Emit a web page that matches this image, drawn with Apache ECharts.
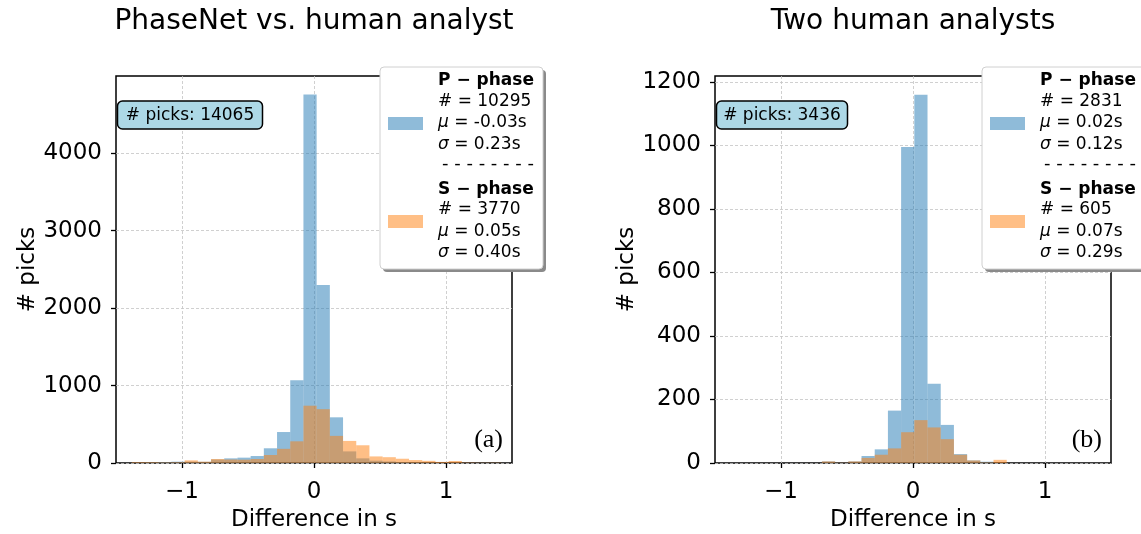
<!DOCTYPE html>
<html>
<head>
<meta charset="utf-8">
<script src="https://cdn.jsdelivr.net/npm/echarts@6/dist/echarts.min.js"></script>
<style>
  html, body { margin: 0; padding: 0; background: #fff; }
  #chart { width: 1141px; height: 534px; }
</style>
</head>
<body>
<div id="chart"></div>
<script>
// Histogram bins: left edge of each bin (seconds) and counts per bin
const BIN_WIDTH = 0.1;

const leftBinStart = [-1.38, -1.28, -1.18, -1.08, -0.98, -0.88, -0.78, -0.68, -0.58, -0.48,
                      -0.38, -0.28, -0.18, -0.08, 0.02, 0.12, 0.22, 0.32, 0.42, 0.52,
                      0.62, 0.72, 0.82, 0.92, 1.02, 1.12, 1.22, 1.32];
const leftP = [5, 8, 13, 17, 17, 15, 45, 60, 69, 90,
               190, 400, 1070, 4760, 2300, 590, 150, 60, 30, 20,
               12, 8, 5, 3, 2, 1, 1, 0];
const leftS = [10, 10, 8, 10, 34, 17, 52, 45, 43, 52,
               103, 183, 280, 740, 695, 350, 285, 229, 85, 75,
               55, 38, 28, 14, 26, 5, 3, 3];

const rightBinStart = [-0.69, -0.59, -0.49, -0.39, -0.29, -0.19, -0.09, 0.01, 0.11, 0.21,
                       0.31, 0.41, 0.51, 0.61];
const rightP = [5, 1, 5, 22, 43, 165, 995, 1160, 250, 120, 28, 8, 4, 0];
const rightS = [5, 1, 5, 16, 26, 46, 97, 135, 112, 75, 26, 8, 2, 10];

// Axis ticks
const xTicks = [-1, 0, 1];
const leftYTicks = [0, 1000, 2000, 3000, 4000];
const rightYTicks = [0, 200, 400, 600, 800, 1000, 1200];
const yMax = [4998, 1219];

// Panel texts
const panelTitles = ['PhaseNet vs. human analyst', 'Two human analysts'];
const panelTags = ['(a)', '(b)'];
const pickTotals = [14065, 3436];
const pCount = [10295, 2831];
const pMu = ['-0.03', '0.02'];
const pSigma = ['0.23', '0.12'];
const sCount = [3770, 605];
const sMu = ['0.05', '0.07'];
const sSigma = ['0.40', '0.29'];

const FONT = 'DejaVu Sans';
const SERIF = 'Liberation Serif';
const P_COLOR = 'rgba(31,119,180,0.5)';
const S_COLOR = 'rgba(255,127,14,0.5)';

const GRID_TOP = 76, GRID_H = 387, GRID_W = 396;
const gridLefts = [116, 715];
const legendLefts = [380, 982];

function toBins(starts, counts) {
  return starts.map((s, i) => [s, s + BIN_WIDTH, counts[i]]);
}

function histSeries(idx, name, data, color) {
  return {
    type: 'custom',
    name: name,
    xAxisIndex: idx,
    yAxisIndex: idx,
    clip: true,
    encode: { x: [0, 1], y: 2 },
    data: data,
    renderItem: function (params, api) {
      const topLeft = api.coord([api.value(0), api.value(2)]);
      const botRight = api.coord([api.value(1), 0]);
      return {
        type: 'rect',
        shape: {
          x: topLeft[0],
          y: topLeft[1],
          width: botRight[0] - topLeft[0],
          height: botRight[1] - topLeft[1]
        },
        style: { fill: color }
      };
    }
  };
}

const splitLineStyle = { show: true, lineStyle: { color: '#c4c4c4', width: 0.8, type: [3, 2] } };
const tickStyle = { lineStyle: { color: '#000', width: 1.3 }, length: 5, inside: false };

function xAxisCfg(idx) {
  return {
    type: 'value', gridIndex: idx, min: -1.5, max: 1.5,
    name: 'Difference in s', nameLocation: 'middle', nameGap: 42,
    nameTextStyle: { fontFamily: FONT, fontSize: 23, color: '#000' },
    axisLine: { show: false, onZero: false },
    axisTick: Object.assign({ customValues: xTicks }, tickStyle),
    axisLabel: {
      customValues: xTicks, margin: 18, fontFamily: FONT, fontSize: 23, color: '#000',
      formatter: v => String(v).replace('-', '\u2212')
    },
    splitLine: splitLineStyle
  };
}

function yAxisCfg(idx, ticks, max) {
  return {
    type: 'value', gridIndex: idx, min: 0, max: max,
    name: '# picks', nameLocation: 'middle', nameGap: 76,
    nameTextStyle: { fontFamily: FONT, fontSize: 23, color: '#000' },
    axisLine: { show: false, onZero: false },
    axisTick: Object.assign({ customValues: ticks }, tickStyle),
    axisLabel: {
      customValues: ticks, margin: 14, fontFamily: FONT, fontSize: 23, color: '#000',
      formatter: v => String(v)
    },
    splitLine: splitLineStyle
  };
}

function txt(x, y, text, extra) {
  return {
    type: 'text', x: x, y: y, z: 100,
    style: Object.assign({
      text: text, fill: '#000', font: '17px "' + FONT + '"',
      textVerticalAlign: 'middle'
    }, extra || {})
  };
}

function mathLine(x, y, sym, rest) {
  return {
    type: 'text', x: x, y: y, z: 100,
    style: {
      text: '{m|' + sym + '} = ' + rest,
      fill: '#000', fontFamily: FONT, fontSize: 17,
      textVerticalAlign: 'middle',
      rich: { m: { fontFamily: FONT, fontSize: 17, fontStyle: 'italic', fill: '#000' } }
    }
  };
}

function panelGraphics(i) {
  const gx = gridLefts[i];
  const boxX = legendLefts[i];   // legend box left edge
  const textX = boxX + 58;
  const out = [];
  // title
  out.push({
    type: 'text', x: gx + GRID_W / 2, y: 22, z: 100,
    style: { text: panelTitles[i], fill: '#000', font: '28px "' + FONT + '"',
             textAlign: 'center', textVerticalAlign: 'middle' }
  });
  // pick total badge
  const badgeW = i === 0 ? 145 : 131;
  out.push({
    type: 'rect', z: 90, shape: { x: gx + 1.5, y: 101, width: badgeW, height: 28, r: 5 },
    style: { fill: '#add8e6', stroke: '#000', lineWidth: 1.5 }
  });
  out.push(txt(gx + 1.5 + badgeW / 2, 115.5, '# picks: ' + pickTotals[i], { textAlign: 'center' }));
  // panel tag
  out.push({
    type: 'text', x: gx + GRID_W - 9, y: 440, z: 100,
    style: { text: panelTags[i], fill: '#000', font: '26px "' + SERIF + '"',
             textAlign: 'right', textVerticalAlign: 'middle' }
  });
  // legend shadow + box
  out.push({
    type: 'rect', z: 95, shape: { x: boxX + 3, y: 70, width: 163, height: 202, r: 4 },
    style: { fill: '#8a8a8a' }
  });
  out.push({
    type: 'rect', z: 96, shape: { x: boxX, y: 67, width: 163, height: 202, r: 4 },
    style: { fill: '#fff', stroke: '#d0d0d0', lineWidth: 1 }
  });
  // legend patches
  out.push({ type: 'rect', z: 97, shape: { x: boxX + 8, y: 117, width: 35, height: 13 }, style: { fill: P_COLOR } });
  out.push({ type: 'rect', z: 97, shape: { x: boxX + 8, y: 215, width: 35, height: 13 }, style: { fill: S_COLOR } });
  // legend texts
  out.push(txt(textX, 81, 'P \u2212 phase', { font: 'bold 17px "' + FONT + '"' }));
  out.push(txt(textX, 102, '# = ' + pCount[i]));
  out.push(mathLine(textX, 123, '\u03bc', pMu[i] + 's'));
  out.push(mathLine(textX, 145, '\u03c3', pSigma[i] + 's'));
  out.push(txt(textX + 4, 164, '- - - - - - - -', { font: '18px "' + FONT + '"' }));
  out.push(txt(textX, 190, 'S \u2212 phase', { font: 'bold 17px "' + FONT + '"' }));
  out.push(txt(textX, 210, '# = ' + sCount[i]));
  out.push(mathLine(textX, 232, '\u03bc', sMu[i] + 's'));
  out.push(mathLine(textX, 253, '\u03c3', sSigma[i] + 's'));
  return out;
}

const chart = echarts.init(document.getElementById('chart'), null, { renderer: 'canvas' });

chart.setOption({
  animation: false,
  backgroundColor: '#fff',
  grid: gridLefts.map(l => ({
    left: l, top: GRID_TOP, width: GRID_W, height: GRID_H,
    outerBoundsMode: 'none', containLabel: false,
    show: true, borderColor: '#000', borderWidth: 1.5, backgroundColor: 'transparent'
  })),
  xAxis: [xAxisCfg(0), xAxisCfg(1)],
  yAxis: [yAxisCfg(0, leftYTicks, yMax[0]), yAxisCfg(1, rightYTicks, yMax[1])],
  series: [
    histSeries(0, 'P-phase', toBins(leftBinStart, leftP), P_COLOR),
    histSeries(0, 'S-phase', toBins(leftBinStart, leftS), S_COLOR),
    histSeries(1, 'P-phase', toBins(rightBinStart, rightP), P_COLOR),
    histSeries(1, 'S-phase', toBins(rightBinStart, rightS), S_COLOR)
  ],
  graphic: panelGraphics(0).concat(panelGraphics(1))
});
</script>
</body>
</html>
